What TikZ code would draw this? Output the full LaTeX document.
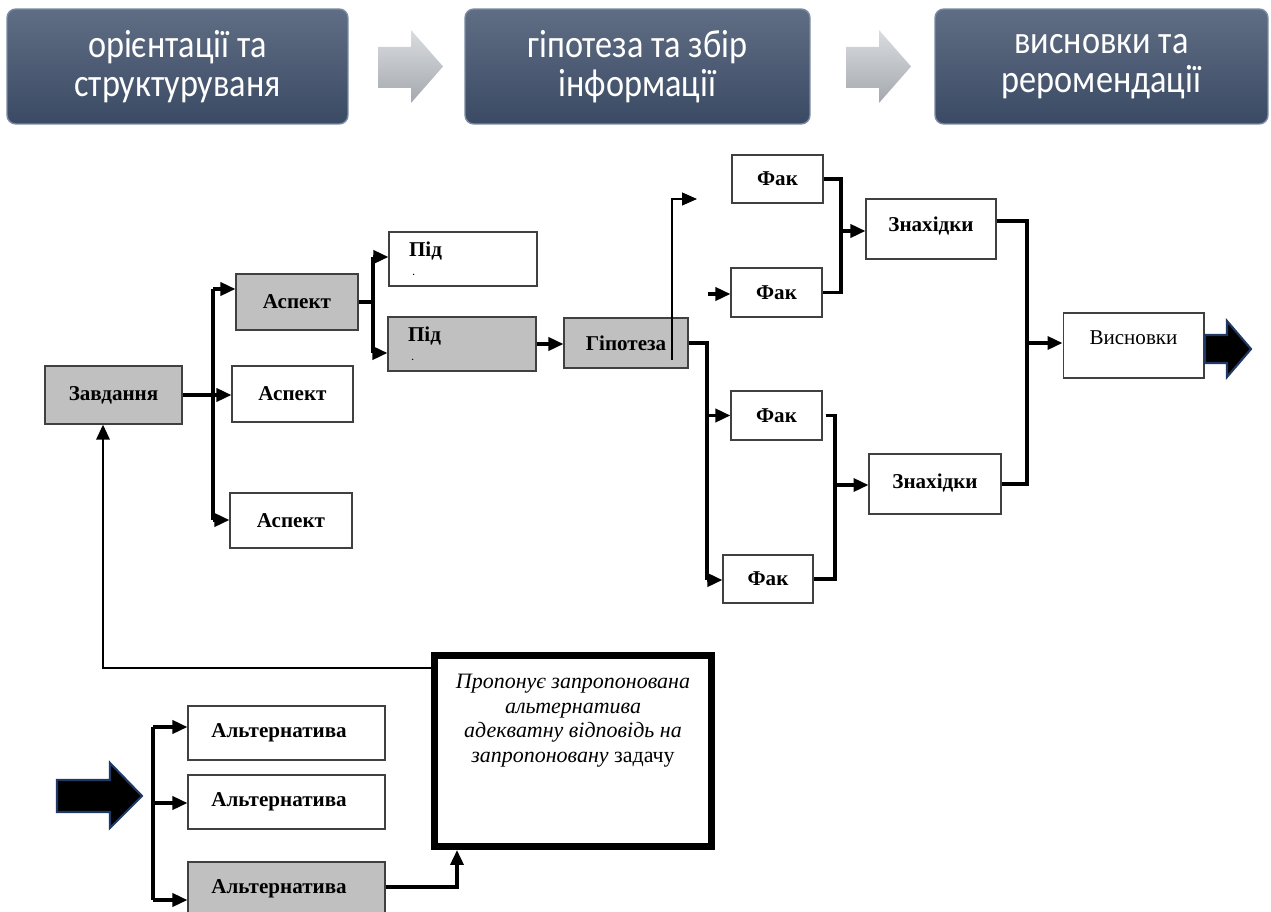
\documentclass[tikz,border=0pt]{standalone}
\usepackage{fontspec}
\usepackage{graphicx}
\setmainfont{Liberation Serif}
\newfontfamily\calibrifont{Carlito}
\usetikzlibrary{arrows.meta,positioning}
\definecolor{stagetop}{HTML}{5F6E84}
\definecolor{stagebot}{HTML}{3B4A64}
\definecolor{stageedge}{HTML}{7A8AA2}
\definecolor{boxline}{HTML}{404040}
\definecolor{boxgrey}{HTML}{C0C0C0}
\definecolor{navy}{HTML}{1F3864}
\definecolor{paletop}{HTML}{DADCDF}
\definecolor{palebot}{HTML}{A4A8AE}
\newcommand{\tallline}[1]{\scalebox{1}[1.15]{#1}}
\tikzset{
  stage/.style={
    rounded corners=5pt, top color=stagetop, bottom color=stagebot,
    draw=stageedge, line width=0.8pt, text=white, align=center,
    font=\calibrifont\fontsize{19.5}{22.5}\selectfont, inner sep=0pt
  },
  greyarr/.style={top color=paletop, bottom color=palebot},
  box/.style={
    draw=boxline, line width=0.6pt, fill=white, inner sep=2pt,
    align=center, font=\fontsize{12}{14}\selectfont\bfseries
  },
  greybox/.style={box, fill=boxgrey},
  subbox/.style={box, align=left, text width=2.16cm, inner xsep=0.4cm, minimum height=1.08cm},
  propbox/.style={draw=black, line width=4pt, fill=white},
  proptext/.style={align=center, inner sep=0pt, font=\fontsize{12.5}{14}\selectfont\itshape},
  conn/.style={line width=2pt},
  arrow/.style={conn, -{Triangle[length=3mm,width=2.6mm]}},
  fbarrow/.style={line width=1.6pt, -{Triangle[length=3mm,width=2.6mm]}},
  thinarr/.style={line width=0.6pt, -{Triangle[length=3mm,width=2.6mm]}},
  bigarrow/.style={fill=black, draw=navy, line width=1.2pt}
}

\begin{document}
\begin{tikzpicture}[x=0.02cm, y=-0.02cm]
  \useasboundingbox (0,0) rectangle (1271,912);
  % stages on top
  \node[stage, minimum width=6.82cm, minimum height=2.3cm] (st1) at (177.5,66.5) {\tallline{орієнтації та}\\\tallline{структуруваня}};
  \node[stage, minimum width=6.9cm, minimum height=2.3cm] (st2) at (637.5,66.5) {\tallline{гіпотеза та збір}\\\tallline{інформації}};
  \node[stage, minimum width=6.66cm, minimum height=2.3cm] (st3) at (1101.5,66.5) {\tallline{висновки та}\\\tallline{реромендації}};
  \foreach \ax in {378,846}
    \shade[greyarr] (\ax,47) -- (\ax+33,47) -- (\ax+33,30) -- (\ax+65,66.5)
      -- (\ax+33,103) -- (\ax+33,88) -- (\ax,88) -- cycle;

  % boxes
  \node[greybox, minimum width=2.74cm, minimum height=1.16cm] (zavd) at (113.5,395) {Завдання};
  \node[greybox, minimum width=2.44cm, minimum height=1.12cm] (asp1) at (297,302) {Аспект};
  \node[box, minimum width=2.42cm, minimum height=1.12cm] (asp2) at (292.5,394) {Аспект};
  \node[box, minimum width=2.44cm, minimum height=1.1cm] (asp3) at (291,520.5) {Аспект};
  \node[subbox] (pid1) at (463,259) {Під\\[-3pt]\hspace*{2pt}{\tiny .}};
  \node[subbox, fill=boxgrey] (pid2) at (462,344) {Під\\[-3pt]\hspace*{2pt}{\tiny .}};
  \node[greybox, minimum width=2.48cm, minimum height=1cm] (hyp) at (626,343) {Гіпотеза};
  \node[box, minimum width=1.82cm, minimum height=0.96cm] (fak1) at (777.5,179) {Фак};
  \node[box, minimum width=1.82cm, minimum height=0.98cm] (fak2) at (776.5,292.5) {Фак};
  \node[box, minimum width=1.82cm, minimum height=0.98cm] (fak3) at (776.5,415.5) {Фак};
  \node[box, minimum width=1.8cm, minimum height=0.96cm] (fak4) at (768,579) {Фак};
  \node[box, minimum width=2.6cm, minimum height=1.2cm, text depth=0.2cm] (find1) at (931,229) {Знахідки};
  \node[box, minimum width=2.64cm, minimum height=1.2cm, text depth=0.1cm] (find2) at (935,484) {Знахідки};
  \node[box, font=\fontsize{12}{14}\selectfont, minimum width=2.82cm, minimum height=1.3cm, text depth=0.3cm] (concl) at (1133.5,345.5) {Висновки};
  \node[box, minimum width=3.94cm, minimum height=1.08cm] (alt1) at (286.5,733) {Альтернатива\hspace*{0.3cm}};
  \node[box, minimum width=3.94cm, minimum height=1.08cm] (alt2) at (286.5,802) {Альтернатива\hspace*{0.3cm}};
  \node[greybox, minimum width=3.94cm, minimum height=1.08cm] (alt3) at (286.5,889) {Альтернатива\hspace*{0.3cm}};
  \node[propbox, minimum width=5.54cm, minimum height=3.82cm] (prop) at (573,751) {};
  \node[proptext, below=0.44cm of prop.north] (propt) {Пропонує запропонована\\альтернатива\\адекватну відповідь на\\запропоновану {\upshape задачу}};

  % Завдання -> Аспект
  \coordinate (ab1) at (213,289);
  \coordinate (ab2) at (213,520);
  \draw[conn] (ab1) -- (ab2);
  \draw[arrow] (zavd.east) -- (zavd.east -| asp2.west);
  \draw[arrow] (ab1) -- (ab1 -| asp1.west);
  \draw[arrow] (ab2) -- (ab2 -| asp3.west);

  % Аспект -> Під -> Гіпотеза
  \coordinate (pb1) at (373,257);
  \coordinate (pb2) at (373,353);
  \draw[conn] (asp1.east) -- (asp1.east -| pb1);
  \draw[conn] (pb1) -- (pb2);
  \draw[arrow] (pb1) -- (pb1 -| pid1.west);
  \draw[arrow] (pb2) -- (pb2 -| pid2.west);
  \draw[arrow] (pid2.east) -- (pid2.east -| hyp.west);

  % Гіпотеза -> Фак
  \coordinate (hin) at (672,360);
  \coordinate (hout) at (697,199);
  \draw[thinarr] (hin) |- (hout);
  \coordinate (f2in) at (708,294);
  \draw[arrow] (f2in) -- (f2in -| fak2.west);
  \coordinate (hb) at (707,580);
  \draw[conn] (hyp.east) -| (hb);
  \draw[arrow] (hb |- fak3.west) -- (fak3.west);
  \draw[arrow] (hb) -- (hb -| fak4.west);

  % Фак -> Знахідки -> Висновки
  \coordinate (j1) at (841,231);
  \draw[conn] (fak1.east) -| (j1) |- (fak2.east);
  \draw[arrow] (j1) -- (j1 -| find1.west);
  \coordinate (j2) at (835,485);
  \draw[conn] ([xshift=0.06cm]fak3.east) -| (j2) |- (fak4.east);
  \draw[arrow] (j2) -- (j2 -| find2.west);
  \coordinate (j3) at (1027,343);
  \draw[conn] ([yshift=0.16cm]find1.east) -| (j3) |- (find2.east);
  \draw[arrow] (j3) -- (j3 -| concl.west);
  \filldraw[bigarrow] (1205,335) -- (1227,335) -- (1227,321) -- (1251,349)
    -- (1227,377) -- (1227,363) -- (1205,363) -- cycle;

  % feedback to Завдання
  \coordinate (fb) at (103,668);
  \draw[fbarrow] (fb -| prop.west) -- (fb) -- (fb |- zavd.south);

  % Альтернатива
  \filldraw[bigarrow] (57,780) -- (110,780) -- (110,763) -- (142,796)
    -- (110,828) -- (110,812) -- (57,812) -- cycle;
  \coordinate (alb1) at (153,727);
  \coordinate (alb2) at (153,803);
  \coordinate (alb3) at (153,900);
  \draw[conn] (alb1) -- (alb3);
  \foreach \c/\n in {alb1/alt1, alb2/alt2, alb3/alt3}
    \draw[arrow] (\c) -- (\c -| \n.west);
  \coordinate (ap) at (457,887);
  \draw[arrow] (alt3.east |- ap) -- (ap) -- (ap |- prop.south);
\end{tikzpicture}
\end{document}
